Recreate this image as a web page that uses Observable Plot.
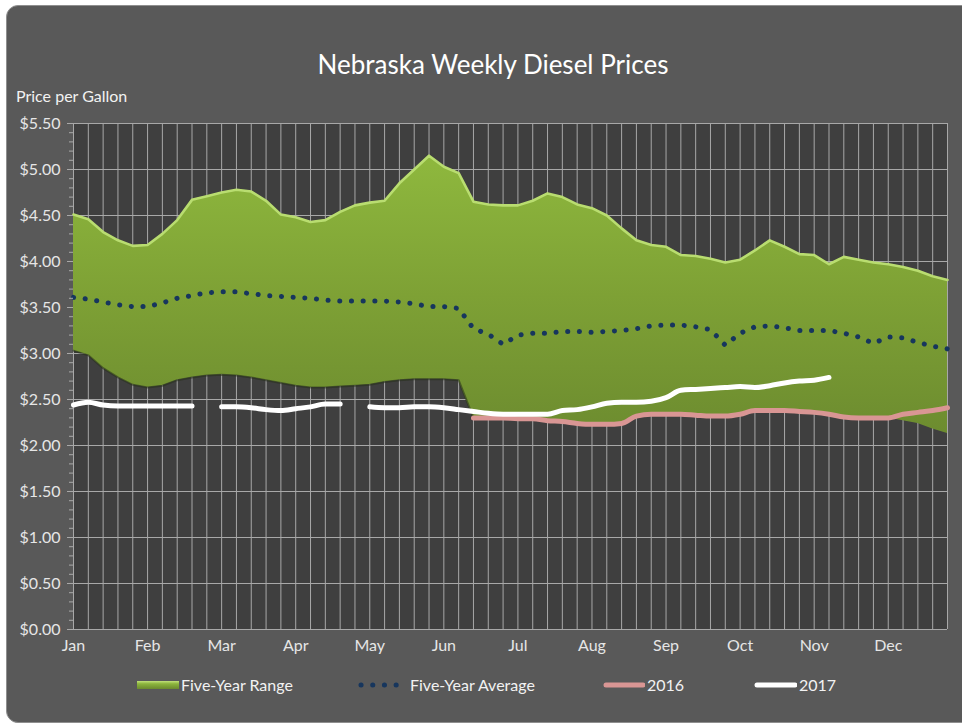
<!DOCTYPE html>
<html>
<head>
<meta charset="utf-8">
<script src="https://cdn.jsdelivr.net/npm/d3@7"></script>
<script src="https://cdn.jsdelivr.net/npm/@observablehq/plot@0.6"></script>
<style>
  body { margin: 0; background: #ffffff; width: 962px; height: 725px; overflow: hidden; position: relative; font-family: Lato, "Open Sans", sans-serif; }
  #panel { position: absolute; left: 6px; top: 5px; width: 990px; height: 716px; background: #595959; border: 1px solid #8f8f8f; border-radius: 12px; }
  #chart { position: absolute; left: 0; top: 0; }
  #title { position: absolute; left: 0; width: 986px; top: 49px; text-align: center; color: #ffffff; font-size: 26px; line-height: 30px; }
  #ylabel { position: absolute; left: 16px; top: 86px; color: #f2f2f2; font-size: 16px; line-height: 20px; }
  .leg { position: absolute; top: 675px; color: #f2f2f2; font-size: 16px; line-height: 20px; display: flex; align-items: center; }
  .leg svg { display: block; margin-right: 2px; }
</style>
</head>
<body>
<div id="panel"></div>
<div id="chart"></div>
<div id="title">Nebraska Weekly Diesel Prices</div>
<div id="ylabel">Price per Gallon</div>
<div class="leg" style="left:137px"><svg width="42" height="12"><defs><linearGradient id="lg" x1="0" y1="0" x2="0" y2="1"><stop offset="0" stop-color="#c2e27a"/><stop offset="0.35" stop-color="#8cb53d"/><stop offset="1" stop-color="#6b8a2e"/></linearGradient></defs><rect x="0" y="2" width="42" height="8" fill="url(#lg)"/></svg>Five-Year Range</div>
<div class="leg" style="left:358px"><svg width="50" height="12"><line x1="3" y1="6" x2="47" y2="6" stroke="#17365d" stroke-width="5" stroke-linecap="round" stroke-dasharray="0.1 11.6"/></svg>Five-Year Average</div>
<div class="leg" style="left:603px"><svg width="42" height="12"><line x1="3" y1="6" x2="40" y2="6" stroke="#d99694" stroke-width="5" stroke-linecap="round"/></svg>2016</div>
<div class="leg" style="left:754px"><svg width="43" height="12"><line x1="3" y1="6" x2="41" y2="6" stroke="#ffffff" stroke-width="5" stroke-linecap="round"/></svg>2017</div>
<script>
// Weekly slots: 12 months x 5 week slots (index 0..59)
const months = ["Jan","Feb","Mar","Apr","May","Jun","Jul","Aug","Sep","Oct","Nov","Dec"];
const yTicks = [0, 0.5, 1, 1.5, 2, 2.5, 3, 3.5, 4, 4.5, 5, 5.5];

const rangeHigh = [4.51,4.46,4.32,4.23,4.17,4.18,4.30,4.45,4.67,4.71,
                   4.75,4.78,4.76,4.66,4.51,4.48,4.43,4.45,4.54,4.61,
                   4.64,4.66,4.85,5.00,5.15,5.03,4.96,4.65,4.62,4.61,
                   4.61,4.66,4.74,4.70,4.62,4.58,4.50,4.36,4.23,4.18,
                   4.16,4.07,4.06,4.03,3.99,4.02,4.12,4.23,4.16,4.08,
                   4.07,3.97,4.05,4.02,3.99,3.97,3.94,3.90,3.84,3.80];
const rangeLow  = [3.03,2.98,2.84,2.74,2.66,2.63,2.65,2.71,2.74,2.76,
                   2.77,2.76,2.74,2.71,2.68,2.65,2.63,2.63,2.64,2.65,
                   2.66,2.69,2.71,2.72,2.72,2.72,2.71,2.30,2.30,2.30,
                   2.29,2.29,2.27,2.26,2.24,2.23,2.23,2.24,2.32,2.34,
                   2.34,2.34,2.33,2.32,2.32,2.34,2.38,2.38,2.38,2.37,
                   2.36,2.34,2.31,2.30,2.30,2.30,2.27,2.24,2.18,2.13];
const average   = [3.61,3.59,3.56,3.53,3.51,3.51,3.55,3.60,3.63,3.66,
                   3.67,3.67,3.65,3.63,3.62,3.61,3.60,3.58,3.57,3.57,
                   3.57,3.57,3.56,3.54,3.51,3.51,3.49,3.27,3.21,3.10,
                   3.20,3.22,3.22,3.24,3.24,3.23,3.24,3.25,3.27,3.30,
                   3.31,3.31,3.29,3.26,3.09,3.22,3.29,3.30,3.28,3.25,
                   3.25,3.25,3.22,3.18,3.11,3.18,3.17,3.12,3.08,3.05];
const y2016     = [null,null,null,null,null,null,null,null,null,null,
                   null,null,null,null,null,null,null,null,null,null,
                   null,null,null,null,null,null,null,2.30,2.30,2.30,
                   2.29,2.29,2.27,2.26,2.24,2.23,2.23,2.24,2.32,2.34,
                   2.34,2.34,2.33,2.32,2.32,2.34,2.38,2.38,2.38,2.37,
                   2.36,2.34,2.31,2.30,2.30,2.30,2.34,2.36,2.38,2.41];
const y2017     = [2.44,2.47,2.44,2.43,2.43,2.43,2.43,2.43,2.43,null,
                   2.42,2.42,2.41,2.39,2.38,2.40,2.42,2.45,2.45,null,
                   2.42,2.41,2.41,2.42,2.42,2.41,2.39,2.37,2.35,2.34,
                   2.34,2.34,2.34,2.38,2.39,2.42,2.46,2.47,2.47,2.48,
                   2.52,2.60,2.61,2.62,2.63,2.64,2.63,2.65,2.68,2.70,
                   2.71,2.74,null,null,null,null,null,null,null,null];

const data = rangeHigh.map((hi, i) => ({
  slot: i, hi, lo: rangeLow[i], avg: average[i],
  v2016: y2016[i] == null ? NaN : y2016[i],
  v2017: y2017[i] == null ? NaN : y2017[i]
}));
const slots = data.map(d => d.slot);
const monthSlots = months.map((m, i) => i * 5);
const minorTicks = d3.range(0, 55.01, 1).map(d => d / 10);

const defs = () => {
  const g = d3.create("svg:defs");
  const lg = g.append("linearGradient").attr("id", "rangeGrad")
    .attr("gradientUnits", "userSpaceOnUse").attr("x1", 0).attr("x2", 0).attr("y1", 150).attr("y2", 440);
  lg.append("stop").attr("offset", 0).attr("stop-color", "#8fb93e");
  lg.append("stop").attr("offset", 0.5).attr("stop-color", "#7ea135");
  lg.append("stop").attr("offset", 1).attr("stop-color", "#6c8b2f");
  return g.node();
};

const chart = Plot.plot({
  width: 962,
  height: 725,
  marginLeft: 73,
  marginRight: 15,
  marginTop: 123,
  marginBottom: 96,
  style: { background: "transparent", fontFamily: "Lato, 'Open Sans', sans-serif", fontSize: "16px", overflow: "visible" },
  x: { domain: [0, 59], axis: null },
  y: { domain: [0, 5.5], axis: null },
  marks: [
    defs,
    Plot.frame({ fill: "#3f3f3f" }),
    Plot.ruleX(slots, { x: d => d, stroke: "#a8a8a8", strokeWidth: 1 }),
    Plot.ruleY(yTicks, { y: d => d, stroke: "#a8a8a8", strokeWidth: 1 }),
    Plot.areaY(data, { x: "slot", y1: "lo", y2: "hi", fill: "url(#rangeGrad)" }),
    Plot.line(data.filter(d => d.slot <= 27), { x: "slot", y: "lo", stroke: "#26301a", strokeWidth: 2, strokeOpacity: 0.55 }),
    Plot.line(data, { x: "slot", y: "hi", stroke: "#b9dd70", strokeWidth: 2.6, strokeLinejoin: "round" }),
    Plot.line(data, { x: "slot", y: "avg", stroke: "#17365d", strokeWidth: 5, strokeLinecap: "round", strokeDasharray: "0.1 11.6" }),
    Plot.line(data, { x: "slot", y: "v2016", stroke: "#d99694", strokeWidth: 5, strokeLinecap: "round", strokeLinejoin: "round", curve: "monotone-x" }),
    Plot.line(data, { x: "slot", y: "v2017", stroke: "#ffffff", strokeWidth: 5, strokeLinecap: "round", strokeLinejoin: "round", curve: "monotone-x" }),
    Plot.axisY(minorTicks, { tickSize: 4, tickFormat: () => "", stroke: "#a8a8a8" }),
    Plot.axisY(yTicks, { tickSize: 6, tickPadding: 7, tickFormat: d => "$" + d.toFixed(2), stroke: "#a8a8a8", fill: "#e6e6e6", label: null }),
    Plot.axisX(monthSlots, { tickSize: 0, tickPadding: 10, tickFormat: d => months[d / 5], fill: "#e6e6e6", label: null })
  ]
});
document.getElementById("chart").appendChild(chart);
</script>
</body>
</html>
